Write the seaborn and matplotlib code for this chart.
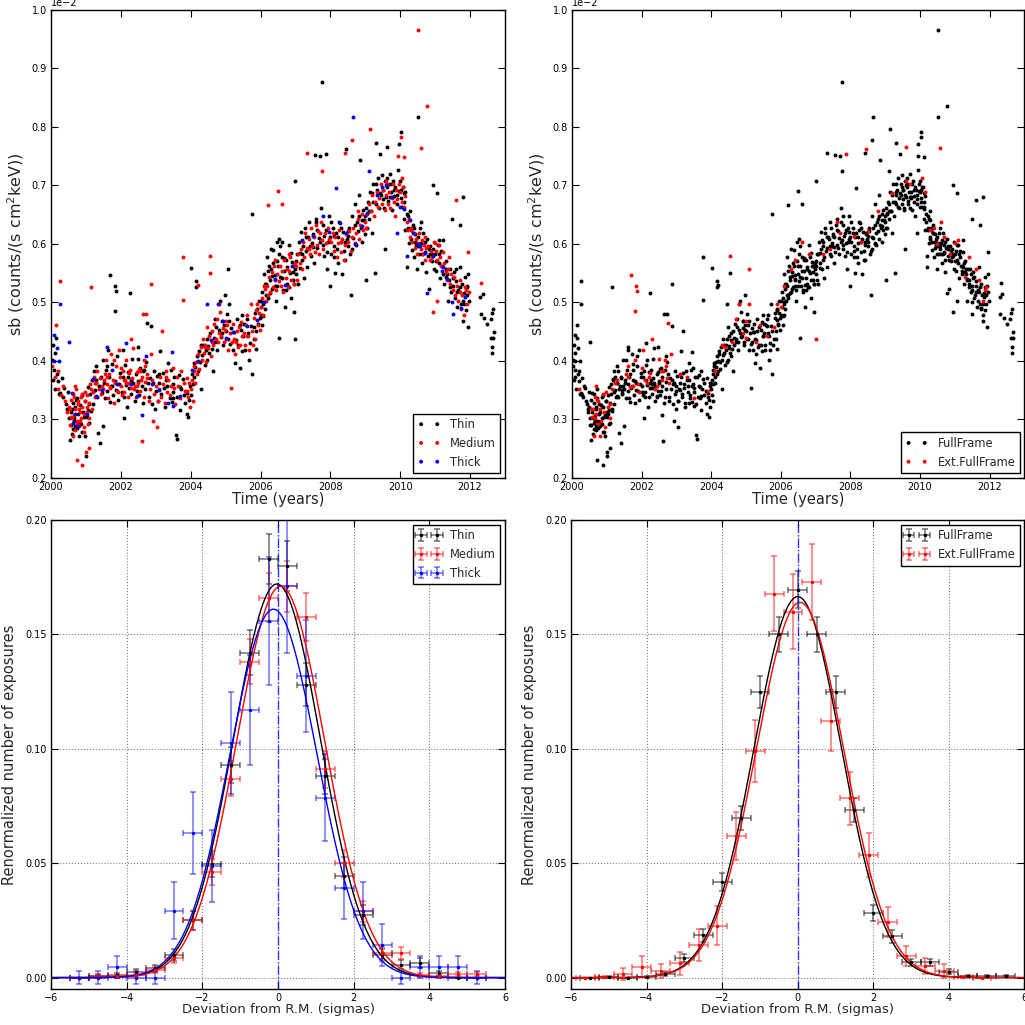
import numpy as np
import pandas as pd
import matplotlib
matplotlib.use("Agg")
import matplotlib.pyplot as plt
from matplotlib.ticker import MultipleLocator
from matplotlib.colors import to_rgba
import seaborn as sns

# ---- light-curve scatter: (year, sb in units of 1e-2 counts/(s cm2 keV)) ----
thin_pts = [
    (2000.03,.402),(2000.05,.368),(2000.06,.427),(2000.08,.385),(2000.1,.413),(2000.12,.352),(2000.15,.44),(2000.17,.377),
    (2000.2,.365),(2000.22,.344),(2000.25,.345),(2000.3,.371),(2000.33,.338),(2000.38,.353),(2000.42,.326),(2000.45,.318),(2000.48,.347),
    (2000.52,.303),(2000.54,.265),(2000.56,.291),(2000.58,.312),(2000.6,.275),(2000.62,.328),(2000.64,.283),(2000.66,.297),(2000.68,.322),
    (2000.7,.288),(2000.73,.336),(2000.75,.285),(2000.78,.309),(2000.8,.296),(2000.83,.325),(2000.85,.293),(2000.88,.279),(2000.9,.341),
    (2000.93,.305),(2000.96,.272),(2000.98,.331),
    (2001.0,.238),(2001.02,.304),(2001.05,.317),(2001.07,.356),(2001.1,.294),(2001.12,.343),(2001.15,.314),(2001.18,.368),(2001.2,.327),
    (2001.22,.383),(2001.25,.351),(2001.28,.362),(2001.3,.391),(2001.32,.339),(2001.35,.277),(2001.38,.357),(2001.4,.26),(2001.42,.372),
    (2001.45,.346),(2001.48,.402),
    (2001.5,.288),(2001.52,.363),(2001.55,.337),(2001.58,.384),(2001.6,.348),(2001.62,.418),(2001.65,.373),(2001.68,.329),(2001.72,.358),
    (2001.75,.394),(2001.78,.342),(2001.82,.366),(2001.85,.351),(2001.88,.409),(2001.92,.334),(2001.95,.361),(2001.98,.379),
    (2002.02,.347),(2002.05,.372),(2002.08,.302),(2002.1,.338),(2002.13,.393),(2002.15,.359),(2002.18,.321),(2002.2,.381),(2002.23,.353),
    (2002.25,.516),(2002.28,.368),(2002.3,.343),(2002.33,.404),(2002.36,.362),(2002.4,.332),(2002.43,.377),(2002.46,.349),(2002.48,.423),
    (2002.5,.366),(2002.53,.341),(2002.56,.388),(2002.6,.357),(2002.63,.328),(2002.66,.384),(2002.7,.352),(2002.73,.398),(2002.8,.339),
    (2002.83,.371),(2002.86,.46),(2002.9,.327),(2002.93,.363),(2002.96,.382),(2002.98,.318),
    (2003.0,.348),(2003.03,.374),(2003.06,.331),(2003.1,.362),(2003.13,.417),(2003.16,.343),(2003.2,.379),(2003.23,.354),(2003.26,.322),
    (2003.3,.367),(2003.33,.358),(2003.36,.396),(2003.4,.336),(2003.43,.384),(2003.46,.329),(2003.48,.361),
    (2003.5,.347),(2003.53,.372),(2003.57,.274),(2003.6,.267),(2003.62,.338),(2003.65,.376),(2003.68,.356),(2003.7,.317),(2003.73,.352),
    (2003.77,.369),(2003.8,.341),(2003.85,.328),(2003.88,.309),(2003.9,.346),(2003.93,.305),(2003.95,.333),(2003.98,.357),
    (2004.01,.559),(2004.02,.342),(2004.04,.378),(2004.06,.361),(2004.08,.397),(2004.1,.372),(2004.13,.389),(2004.16,.536),(2004.16,.527),
    (2004.18,.408),(2004.2,.383),(2004.23,.417),(2004.26,.398),(2004.3,.352),(2004.33,.411),(2004.36,.428),(2004.4,.393),(2004.43,.419),
    (2004.46,.437),(2004.48,.402),
    (2004.5,.426),(2004.53,.413),(2004.56,.448),(2004.6,.421),(2004.63,.382),(2004.66,.439),(2004.7,.432),(2004.73,.458),(2004.76,.418),
    (2004.8,.453),(2004.83,.502),(2004.86,.441),(2004.9,.468),(2004.93,.427),(2004.96,.462),(2004.98,.512),
    (2005.0,.452),(2005.03,.481),(2005.06,.437),(2005.1,.468),(2005.13,.429),(2005.16,.457),(2005.2,.418),(2005.23,.449),(2005.26,.397),
    (2005.3,.436),(2005.33,.472),(2005.36,.428),(2005.4,.388),(2005.43,.453),(2005.46,.417),(2005.48,.478),
    (2005.5,.442),(2005.53,.463),(2005.56,.419),(2005.6,.471),(2005.63,.448),(2005.66,.402),(2005.7,.431),(2005.73,.459),(2005.76,.651),
    (2005.76,.378),(2005.8,.437),(2005.83,.482),(2005.86,.452),(2005.88,.421),(2005.9,.489),(2005.93,.463),(2005.96,.503),(2005.98,.474),
    (2006.0,.479),(2006.03,.518),(2006.05,.462),(2006.08,.497),(2006.1,.548),(2006.12,.488),(2006.15,.532),(2006.18,.577),(2006.2,.508),
    (2006.23,.562),(2006.26,.538),(2006.3,.591),(2006.33,.523),(2006.36,.568),(2006.4,.547),(2006.43,.503),(2006.46,.603),(2006.48,.528),
    (2006.5,.562),(2006.53,.609),(2006.54,.44),(2006.56,.543),(2006.6,.578),(2006.63,.521),(2006.66,.553),(2006.7,.493),(2006.73,.572),
    (2006.76,.532),(2006.8,.598),(2006.83,.551),(2006.86,.507),(2006.9,.569),(2006.93,.538),(2006.96,.484),(2006.98,.557),
    (2007.0,.707),(2007.02,.548),(2007.05,.582),(2007.08,.531),(2007.1,.603),(2007.13,.559),(2007.16,.621),(2007.2,.573),(2007.23,.542),
    (2007.26,.628),(2007.3,.588),(2007.33,.561),(2007.36,.612),(2007.4,.638),(2007.43,.579),(2007.46,.601),
    (2007.5,.617),(2007.53,.568),(2007.57,.752),(2007.6,.642),(2007.63,.593),(2007.66,.611),(2007.7,.75),(2007.72,.661),(2007.76,.876),
    (2007.78,.598),(2007.8,.632),(2007.83,.579),(2007.88,.623),(2007.9,.558),(2007.93,.603),(2007.96,.648),(2007.98,.528),
    (2008.0,.612),(2008.03,.583),(2008.06,.627),(2008.1,.596),(2008.13,.551),(2008.16,.618),(2008.2,.592),(2008.23,.567),(2008.26,.638),
    (2008.3,.603),(2008.33,.548),(2008.36,.621),(2008.4,.588),(2008.43,.572),(2008.48,.608),
    (2008.5,.597),(2008.53,.628),(2008.56,.582),(2008.6,.513),(2008.62,.647),(2008.66,.611),(2008.7,.668),(2008.73,.598),(2008.76,.637),
    (2008.8,.622),(2008.83,.683),(2008.86,.743),(2008.88,.627),(2008.9,.603),(2008.93,.658),(2008.96,.641),(2008.98,.617),
    (2009.0,.648),(2009.03,.539),(2009.05,.628),(2009.08,.671),(2009.1,.643),(2009.13,.688),(2009.16,.657),(2009.2,.619),(2009.23,.702),
    (2009.27,.551),(2009.3,.668),(2009.31,.772),(2009.33,.692),(2009.36,.712),(2009.4,.661),(2009.43,.753),(2009.46,.683),(2009.48,.718),
    (2009.5,.693),(2009.53,.662),(2009.56,.708),(2009.57,.591),(2009.6,.681),(2009.63,.697),(2009.66,.673),(2009.7,.719),(2009.73,.688),
    (2009.76,.658),(2009.8,.707),(2009.83,.682),(2009.86,.698),(2009.9,.668),(2009.93,.727),(2009.95,.77),(2009.97,.691),
    (2010.0,.708),(2010.02,.679),(2010.03,.792),(2010.05,.663),(2010.08,.698),(2010.1,.642),(2010.12,.671),(2010.15,.623),(2010.18,.652),
    (2010.2,.561),(2010.22,.628),(2010.25,.602),(2010.28,.657),(2010.3,.608),(2010.33,.589),(2010.36,.632),(2010.4,.578),(2010.43,.617),
    (2010.46,.598),(2010.48,.558),
    (2010.5,.612),(2010.52,.817),(2010.53,.583),(2010.56,.627),(2010.6,.601),(2010.63,.568),(2010.66,.618),(2010.7,.587),(2010.73,.552),
    (2010.76,.608),(2010.8,.579),(2010.83,.523),(2010.86,.597),(2010.9,.571),(2010.93,.592),(2010.95,.70),(2010.97,.558),
    (2011.0,.582),(2011.03,.553),(2011.05,.687),(2011.07,.598),(2011.1,.567),(2011.13,.541),(2011.16,.588),(2011.2,.562),(2011.23,.607),
    (2011.26,.532),(2011.3,.571),(2011.33,.548),(2011.36,.502),(2011.4,.538),(2011.43,.557),(2011.46,.518),(2011.48,.642),
    (2011.5,.528),(2011.53,.552),(2011.56,.508),(2011.6,.537),(2011.63,.493),(2011.66,.521),(2011.7,.561),(2011.71,.633),(2011.73,.498),
    (2011.76,.532),(2011.8,.468),(2011.81,.681),(2011.83,.517),(2011.86,.543),(2011.88,.487),(2011.9,.512),(2011.93,.458),(2011.95,.548),
    (2011.97,.503),
    (2006.015,.503),(2006.065,.476),(2006.115,.531),(2006.165,.512),(2006.215,.553),(2006.265,.517),(2006.315,.546),(2006.365,.589),
    (2006.415,.528),(2006.465,.571),(2006.515,.583),(2006.565,.597),(2006.615,.541),(2006.665,.576),(2006.715,.522),(2006.765,.561),
    (2006.815,.527),(2006.865,.584),(2006.915,.552),(2006.965,.531),
    (2007.015,.571),(2007.115,.584),(2007.215,.597),(2007.315,.612),(2007.415,.596),(2007.515,.594),(2007.615,.623),(2007.715,.604),
    (2007.815,.613),(2007.915,.587),
    (2008.015,.637),(2008.115,.578),(2008.215,.612),(2008.315,.628),(2008.415,.603),(2008.515,.613),(2008.615,.592),(2008.715,.632),
    (2008.815,.648),(2008.915,.641),
    (2009.015,.662),(2009.115,.657),(2009.215,.671),(2009.315,.703),(2009.415,.687),(2009.515,.677),(2009.615,.712),(2009.715,.681),
    (2009.815,.693),(2009.915,.684),
    (2010.015,.693),(2010.115,.687),(2010.215,.647),(2010.315,.624),(2010.415,.603),(2010.515,.597),(2010.615,.582),(2010.715,.603),
    (2010.815,.591),(2010.915,.583),
    (2011.015,.571),(2011.115,.582),(2011.215,.548),(2011.315,.558),(2011.415,.527),(2011.515,.541),(2011.615,.518),(2011.715,.527),
    (2011.815,.498),(2011.915,.528),
    (2012.29,.51),(2012.36,.514),(2012.31,.48),(2012.4,.473),(2012.49,.463),(2012.59,.472),(2012.62,.482),(2012.65,.489),
    (2012.6,.44),(2012.63,.424),(2012.64,.414),(2012.66,.44),(2012.68,.45),
]
thin_ext_pts = [
    (2001.70,.547),(2001.83,.528),(2001.87,.52),(2001.82,.486),(2002.76,.465),(2005.08,.557),(2007.0,.438),(2007.86,.754),
    (2008.46,.762),(2009.61,.765),
    (2000.6,.318),(2000.65,.302),(2000.72,.334),(2000.8,.271),(2000.92,.313),(2001.08,.327),(2001.3,.368),(2001.6,.392),(2001.75,.357),
    (2002.05,.418),(2002.2,.372),(2002.5,.403),(2002.62,.383),(2002.78,.362),(2003.1,.378),(2003.5,.337),(2004.3,.428),(2004.7,.472),
    (2004.9,.447),(2005.1,.498),(2005.4,.462),(2005.8,.458),(2006.0,.493),(2006.3,.558),(2006.6,.604),(2007.2,.583),(2007.6,.637),
    (2008.1,.613),(2008.5,.622),(2009.2,.687),(2009.7,.702),(2010.15,.688),(2010.4,.627),(2010.6,.638),(2010.85,.583),(2011.1,.607),
    (2011.3,.543),(2011.6,.558),(2011.8,.503),(2011.9,.527),
]
medium_pts = [
    (2000.04,.392),(2000.14,.461),(2000.26,.536),(2000.1,.372),(2000.2,.383),(2000.28,.342),(2000.35,.358),(2000.4,.331),(2000.46,.312),
    (2000.5,.322),(2000.53,.291),(2000.56,.334),(2000.6,.302),(2000.63,.343),(2000.65,.308),(2000.68,.282),(2000.7,.318),(2000.72,.352),
    (2000.73,.231),(2000.75,.297),(2000.78,.327),(2000.8,.288),(2000.82,.313),(2000.85,.338),(2000.87,.303),(2000.89,.222),(2000.9,.321),
    (2000.93,.278),(2000.95,.309),(2000.98,.332),
    (2001.0,.244),(2001.02,.312),(2001.04,.341),(2001.06,.293),(2001.08,.252),(2001.09,.328),(2001.12,.361),(2001.14,.526),(2001.16,.318),
    (2001.2,.347),(2001.23,.372),(2001.26,.338),(2001.3,.363),(2001.33,.383),(2001.36,.352),(2001.4,.371),(2001.44,.343),(2001.47,.358),
    (2001.5,.352),(2001.53,.368),(2001.56,.402),(2001.6,.361),(2001.63,.337),(2001.66,.378),(2001.7,.353),(2001.73,.412),(2001.76,.367),
    (2001.8,.328),(2001.84,.362),(2001.87,.391),(2001.9,.348),(2001.94,.418),(2001.97,.372),
    (2002.0,.358),(2002.03,.342),(2002.06,.383),(2002.1,.347),(2002.13,.368),(2002.16,.402),(2002.2,.338),(2002.23,.362),(2002.26,.384),
    (2002.3,.353),(2002.33,.371),(2002.36,.422),(2002.4,.357),(2002.43,.339),(2002.46,.381),
    (2002.5,.362),(2002.53,.387),(2002.56,.348),(2002.6,.373),(2002.61,.263),(2002.64,.48),(2002.66,.338),(2002.7,.364),(2002.72,.48),
    (2002.75,.378),(2002.8,.332),(2002.84,.352),(2002.86,.532),(2002.88,.367),(2002.93,.298),(2002.95,.343),
    (2003.0,.358),(2003.04,.287),(2003.05,.331),(2003.08,.352),(2003.12,.373),(2003.15,.338),(2003.18,.452),(2003.22,.361),(2003.25,.328),
    (2003.28,.382),(2003.32,.347),(2003.35,.368),(2003.4,.342),(2003.44,.357),(2003.48,.388),
    (2003.52,.353),(2003.56,.327),(2003.6,.372),(2003.64,.358),(2003.68,.337),(2003.72,.383),(2003.77,.577),(2003.77,.505),(2003.8,.362),
    (2003.84,.348),(2003.88,.371),(2003.92,.338),(2003.96,.363),(2003.98,.322),
    (2004.0,.352),(2004.03,.368),(2004.06,.331),(2004.09,.392),(2004.12,.363),(2004.15,.398),(2004.18,.377),(2004.2,.53),(2004.22,.412),
    (2004.25,.387),(2004.28,.423),(2004.32,.402),(2004.35,.438),(2004.38,.413),(2004.42,.427),(2004.45,.398),(2004.48,.458),
    (2004.5,.422),(2004.52,.443),(2004.55,.55),(2004.58,.408),(2004.62,.452),(2004.65,.428),(2004.68,.463),(2004.72,.437),(2004.75,.472),
    (2004.78,.433),(2004.82,.448),(2004.85,.483),(2004.88,.442),(2004.92,.457),(2004.95,.432),(2004.98,.453),
    (2005.02,.438),(2005.05,.462),(2005.08,.418),(2005.12,.447),(2005.15,.354),(2005.18,.432),(2005.22,.463),(2005.25,.437),(2005.28,.412),
    (2005.32,.452),(2005.35,.423),(2005.38,.458),(2005.42,.428),(2005.45,.467),(2005.48,.443),
    (2005.52,.448),(2005.55,.427),(2005.58,.462),(2005.62,.478),(2005.65,.442),(2005.68,.418),(2005.72,.498),(2005.75,.452),(2005.78,.428),
    (2005.82,.473),(2005.85,.438),(2005.88,.487),(2005.92,.462),(2005.95,.482),(2005.98,.453),
    (2006.02,.492),(2006.05,.508),(2006.08,.478),(2006.12,.523),(2006.15,.502),(2006.18,.528),(2006.2,.666),(2006.22,.512),(2006.25,.543),
    (2006.28,.518),(2006.32,.552),(2006.35,.527),(2006.38,.563),(2006.42,.538),(2006.45,.522),(2006.48,.548),
    (2006.5,.69),(2006.52,.537),(2006.55,.562),(2006.58,.528),(2006.6,.669),(2006.62,.553),(2006.65,.518),(2006.68,.572),(2006.72,.542),
    (2006.75,.558),(2006.78,.527),(2006.82,.553),(2006.85,.578),(2006.88,.538),(2006.92,.563),(2006.95,.532),(2006.98,.568),
    (2007.02,.562),(2007.05,.538),(2007.08,.583),(2007.12,.567),(2007.15,.592),(2007.18,.558),(2007.22,.603),(2007.25,.577),(2007.28,.618),
    (2007.32,.593),(2007.34,.756),(2007.38,.608),(2007.42,.582),(2007.45,.628),(2007.48,.597),
    (2007.52,.612),(2007.55,.587),(2007.58,.633),(2007.62,.598),(2007.65,.622),(2007.68,.583),(2007.72,.638),(2007.75,.607),(2007.76,.724),
    (2007.8,.592),(2007.84,.618),(2007.88,.602),(2007.92,.628),(2007.96,.608),
    (2008.02,.603),(2008.06,.618),(2008.1,.588),(2008.14,.612),(2008.18,.578),(2008.22,.602),(2008.26,.623),(2008.3,.587),(2008.34,.608),
    (2008.38,.573),(2008.42,.598),(2008.43,.755),(2008.46,.617),
    (2008.5,.603),(2008.54,.622),(2008.58,.588),(2008.62,.612),(2008.63,.778),(2008.66,.628),(2008.7,.602),(2008.74,.618),(2008.78,.642),
    (2008.82,.608),(2008.86,.633),(2008.9,.652),(2008.94,.623),(2008.98,.638),
    (2009.02,.627),(2009.06,.652),(2009.1,.668),(2009.13,.796),(2009.16,.657),(2009.2,.683),(2009.24,.648),(2009.28,.672),(2009.32,.688),
    (2009.36,.663),(2009.4,.678),(2009.44,.702),(2009.48,.668),
    (2009.52,.692),(2009.55,.658),(2009.58,.683),(2009.62,.703),(2009.65,.668),(2009.68,.688),(2009.72,.662),(2009.75,.678),(2009.78,.702),
    (2009.82,.672),(2009.85,.648),(2009.88,.693),(2009.92,.677),(2009.94,.75),(2009.96,.703),
    (2010.0,.688),(2010.03,.783),(2010.04,.672),(2010.07,.698),(2010.1,.748),(2010.12,.663),(2010.15,.682),(2010.18,.638),(2010.22,.623),
    (2010.25,.642),(2010.28,.612),(2010.32,.628),(2010.35,.603),(2010.38,.618),(2010.42,.593),(2010.45,.608),(2010.48,.582),
    (2010.52,.965),(2010.52,.602),(2010.55,.618),(2010.58,.592),(2010.62,.607),(2010.65,.583),(2010.68,.598),(2010.72,.572),(2010.75,.593),
    (2010.77,.835),(2010.8,.597),(2010.84,.573),(2010.88,.588),(2010.92,.578),(2010.95,.484),(2010.98,.603),
    (2011.02,.588),(2011.05,.502),(2011.06,.572),(2011.1,.598),(2011.14,.577),(2011.18,.562),(2011.22,.587),(2011.26,.568),(2011.3,.552),
    (2011.34,.538),(2011.38,.558),(2011.42,.532),(2011.46,.548),
    (2011.5,.522),(2011.54,.543),(2011.58,.512),(2011.61,.675),(2011.62,.528),(2011.66,.502),(2011.7,.518),(2011.74,.488),(2011.78,.512),
    (2011.82,.478),(2011.86,.527),(2011.9,.497),(2011.94,.586),(2011.96,.518),(2012.32,.533),
]
medium_ext_pts = [
    (2004.55,.579),(2010.58,.764),
    (2000.2,.352),(2000.55,.318),(2000.62,.272),(2000.7,.358),(2000.76,.331),(2000.84,.298),(2000.97,.347),(2001.1,.302),(2001.25,.362),
    (2001.55,.378),(2001.8,.402),(2002.1,.368),(2002.3,.438),(2002.45,.357),(2002.55,.383),(2002.7,.392),(2002.85,.412),(2003.3,.372),
    (2003.9,.348),(2004.1,.382),(2004.4,.423),(2004.6,.433),(2004.8,.498),(2005.0,.468),(2005.3,.432),(2005.6,.443),(2005.9,.497),
    (2006.1,.528),(2006.4,.572),(2006.8,.582),(2007.4,.592),(2007.7,.618),(2008.3,.603),(2008.8,.657),(2009.6,.708),(2010.05,.712),
    (2010.3,.623),(2010.7,.612),(2011.0,.602),(2011.4,.578),(2011.7,.538),(2011.88,.522),
    (2000.58,.305),(2000.66,.338),(2000.74,.292),(2000.81,.318),(2000.88,.343),(2000.94,.287),(2001.03,.322),(2001.14,.352),
    (2001.6,.372),(2001.68,.355),(2001.92,.347),(2002.0,.388),(2002.15,.362),(2002.24,.379),(2002.38,.352),(2002.58,.367),
    (2002.66,.402),(2002.74,.371),
]
thick_pts = [
    (2000.08,.444),(2000.16,.422),(2000.27,.498),(2000.09,.40),(2000.22,.40),(2000.52,.432),(2000.59,.345),(2000.64,.294),
    (2000.78,.288),(2001.04,.31),(2001.19,.37),(2001.3,.34),(2001.45,.35),(2001.61,.423),(2001.74,.385),(2002.14,.431),
    (2002.3,.36),(2002.45,.34),(2002.6,.308),(2002.71,.408),(2002.9,.36),(2003.1,.35),(2003.36,.328),(2003.45,.415),(2003.5,.323),
    (2003.7,.34),(2004.04,.385),(2004.2,.40),(2004.46,.498),(2004.57,.436),(2004.79,.498),(2004.92,.468),(2005.2,.45),(2005.6,.46),
    (2005.9,.47),(2006.1,.50),(2006.4,.54),(2006.7,.53),(2006.9,.562),(2007.18,.607),(2007.5,.613),(2007.8,.647),(2007.95,.62),
    (2008.16,.695),(2008.27,.636),(2008.46,.618),(2008.65,.817),(2008.7,.60),(2008.9,.63),(2009.04,.653),(2009.1,.725),
    (2009.32,.684),(2009.47,.698),(2009.6,.70),(2009.75,.681),(2009.91,.618),(2009.99,.664),(2010.1,.66),(2010.2,.58),
    (2010.28,.641),(2010.37,.618),(2010.56,.596),(2010.7,.584),(2010.76,.517),(2010.95,.579),(2011.2,.554),(2011.23,.561),
    (2011.35,.54),(2011.49,.50),(2011.5,.48),(2011.74,.49),(2011.85,.51),
]
thick_ext_pts = [(2000.7,.31),(2001.9,.36),(2005.0,.44),(2010.5,.60)]

# ---- deviation histograms (bin centre, normalised count, error) ----
bin_halfwidth = 0.25
filt_x = [-5.25,-4.75,-4.25,-3.75,-3.25,-2.75,-2.25,-1.75,-1.25,-0.75,-0.25,
          0.25,0.75,1.25,1.75,2.25,2.75,3.25,3.75,4.25,4.75,5.25]
thin_y = [0.0,0.0007,0.001,0.0025,0.004,0.010,0.025,0.0497,0.093,0.142,0.183,
          0.180,0.128,0.088,0.0446,0.0274,0.0098,0.0056,0.0063,0.0019,0.0,0.0]
thin_err = [0.0,0.0007,0.001,0.0013,0.0016,0.0026,0.004,0.0057,0.0078,0.0097,0.011,
            0.011,0.0093,0.0077,0.0055,0.0043,0.0026,0.0019,0.0021,0.0011,0.0,0.0]
medium_y = [0.0,0.0005,0.0005,0.001,0.0033,0.0085,0.025,0.046,0.087,0.138,0.166,
            0.171,0.1576,0.091,0.050,0.029,0.0107,0.0107,0.001,0.0005,0.0015,0.0015]
medium_err = [0.0,0.0005,0.0005,0.0008,0.0014,0.0022,0.0042,0.0057,0.0078,0.0098,0.0108,
              0.011,0.0105,0.008,0.0059,0.0045,0.0027,0.0027,0.0008,0.0005,0.001,0.001]
thick_y = [0.0,0.0,0.0048,0.0,0.0,0.0293,0.0632,0.0487,0.1027,0.117,0.156,
           0.171,0.132,0.0786,0.039,0.0293,0.0143,0.0,0.0048,0.0048,0.0048,0.0]
thick_err = [0.003,0.003,0.0048,0.003,0.003,0.0125,0.0178,0.0157,0.0223,0.024,0.028,
             0.029,0.0245,0.019,0.0135,0.0125,0.0092,0.003,0.0048,0.0048,0.0048,0.003]

ff_x = [-5.5,-5.0,-4.5,-4.0,-3.5,-3.0,-2.5,-2.0,-1.5,-1.0,-0.5,0.0,
        0.5,1.0,1.5,2.0,2.5,3.0,3.5,4.0,4.5,5.0,5.5]
ff_y = [0.0,0.0004,0.0,0.0004,0.0015,0.0085,0.0184,0.0417,0.0696,0.1247,0.150,0.1696,
        0.150,0.1247,0.0732,0.0282,0.018,0.0067,0.0067,0.0026,0.0007,0.0007,0.0007]
ff_err = [0.0,0.0004,0.0,0.0004,0.0008,0.0018,0.0027,0.004,0.0052,0.007,0.0077,0.0082,
          0.0077,0.007,0.0054,0.0034,0.0027,0.0016,0.0016,0.001,0.0005,0.0005,0.0005]
ext_x = [-5.625,-5.125,-4.625,-4.125,-3.625,-3.125,-2.625,-2.125,-1.625,-1.125,-0.625,
         -0.125,0.375,0.875,1.375,1.875,2.375,2.875,3.375,3.875,4.375,4.875]
ext_y = [0.0,0.0002,0.0015,0.0048,0.003,0.0063,0.0143,0.0227,0.0618,0.099,0.1678,
         0.160,0.173,0.1123,0.0784,0.0535,0.0243,0.0095,0.0051,0.003,0.0002,0.0]
ext_err = [0.0,0.0005,0.0025,0.0045,0.003,0.005,0.007,0.0085,0.0105,0.0135,0.0165,
           0.0165,0.0167,0.0133,0.0115,0.0095,0.0065,0.0043,0.0035,0.003,0.0005,0.0]

# gaussian fit parameters: amplitude, mean, sigma
fit_filters = {"Thin": (0.172, -0.03, 1.15), "Medium": (0.171, 0.07, 1.16), "Thick": (0.161, -0.12, 1.15)}
fit_modes = {"FullFrame": (0.1665, 0.0, 1.15), "Ext.FullFrame": (0.164, 0.06, 1.16)}

colors = {"Thin": "k", "Medium": "r", "Thick": "b", "FullFrame": "k", "Ext.FullFrame": "r"}


def frame(pts, filt, mode):
    d = pd.DataFrame(pts, columns=["year", "sb"])
    d["filter"] = filt
    d["mode"] = mode
    return d


scat = pd.concat([
    frame(thin_pts, "Thin", "FullFrame"), frame(thin_ext_pts, "Thin", "Ext.FullFrame"),
    frame(medium_pts, "Medium", "FullFrame"), frame(medium_ext_pts, "Medium", "Ext.FullFrame"),
    frame(thick_pts, "Thick", "FullFrame"), frame(thick_ext_pts, "Thick", "Ext.FullFrame"),
], ignore_index=True)
scat["sb"] = scat["sb"] * 1e-2

sns.set_style("ticks", {"xtick.direction": "in", "ytick.direction": "in",
                        "axes.edgecolor": "black", "xtick.color": "black", "ytick.color": "black"})
plt.rcParams["font.family"] = ["DejaVu Sans"]

fig = plt.figure(figsize=(10.25, 10.25), dpi=100)
ax_tl = fig.add_axes([0.0498, 0.5337, 0.4429, 0.4566])
ax_tr = fig.add_axes([0.558, 0.5337, 0.4415, 0.4566])
ax_bl = fig.add_axes([0.0498, 0.0351, 0.4429, 0.4576])
ax_br = fig.add_axes([0.5571, 0.0351, 0.4424, 0.4576])


def style_axes(ax, tick_size):
    ax.tick_params(axis="both", which="both", top=True, right=True, direction="in",
                   length=5, width=0.8, labelsize=tick_size, pad=3)
    for sp in ax.spines.values():
        sp.set_color("black")
        sp.set_linewidth(1.0)


# ---- top panels ----
for ax, key, groups in [(ax_tl, "filter", ["Thin", "Medium", "Thick"]),
                        (ax_tr, "mode", ["FullFrame", "Ext.FullFrame"])]:
    for g in groups:
        sns.scatterplot(data=scat[scat[key] == g], x="year", y="sb", color=colors[g],
                        s=8, linewidth=0, label=g, ax=ax)
    ax.set_xlim(2000, 2013)
    ax.set_ylim(0.002, 0.010)
    ax.xaxis.set_major_locator(MultipleLocator(2))
    ax.yaxis.set_major_locator(MultipleLocator(0.001))
    ax.ticklabel_format(axis="y", style="sci", scilimits=(-2, -2), useMathText=False)
    ax.yaxis.get_offset_text().set_fontsize(7)
    style_axes(ax, 7)
    ax.set_xlabel("Time (years)", fontsize=10.5, labelpad=0)
    ax.set_ylabel("sb (counts/(s cm$^2$keV))", fontsize=11.5, labelpad=4)
    ax.legend(loc="lower right", scatterpoints=2, scatteryoffsets=[0.5], fontsize=8.3,
              fancybox=False, edgecolor="black", framealpha=1, borderaxespad=0.4,
              handlelength=2, handletextpad=0.8, labelspacing=0.5)
    ax.get_legend().get_frame().set_linewidth(1.0)

# ---- bottom panels ----
xx = np.linspace(-6, 6, 481)
for ax, groups, fits in [
    (ax_bl, [("Thin", filt_x, thin_y, thin_err), ("Medium", filt_x, medium_y, medium_err),
             ("Thick", filt_x, thick_y, thick_err)], fit_filters),
    (ax_br, [("FullFrame", ff_x, ff_y, ff_err), ("Ext.FullFrame", ext_x, ext_y, ext_err)], fit_modes),
]:
    handles = []
    for name, bx, by, be in groups:
        c = colors[name]
        h = ax.errorbar(bx, by, xerr=bin_halfwidth, yerr=be, fmt=".", color=c, ms=3,
                        ecolor=to_rgba(c, 0.55), elinewidth=1.1, capsize=2, capthick=1.1,
                        label=name)
        handles.append(h)
    for name, bx, by, be in groups:
        amp, mu, sig = fits[name]
        curve = amp * np.exp(-(xx - mu) ** 2 / (2 * sig ** 2))
        sns.lineplot(x=xx, y=curve, color=colors[name], linewidth=1.0, ax=ax, legend=False)
    ax.axvline(0, color="b", ls="-.", lw=1.0, alpha=0.75)
    ax.set_xlim(-6, 6)
    ax.set_ylim(-0.005, 0.2)
    ax.xaxis.set_major_locator(MultipleLocator(2))
    ax.yaxis.set_major_locator(MultipleLocator(0.05))
    ax.yaxis.set_major_formatter(plt.FormatStrFormatter("%.2f"))
    ax.grid(True, ls=":", color="0.5", lw=0.8)
    style_axes(ax, 7)
    ax.set_xlabel("Deviation from R.M. (sigmas)", fontsize=9.5, labelpad=0)
    ax.set_ylabel("Renormalized number of exposures", fontsize=10.5, labelpad=6)
    leg = ax.legend(handles=handles, labels=[g[0] for g in groups], loc="upper right",
                    numpoints=2, fontsize=8.3, fancybox=False, edgecolor="black", framealpha=1,
                    borderaxespad=0.4, handlelength=2, handletextpad=0.8, labelspacing=0.5)
    leg.get_frame().set_linewidth(1.0)

fig.savefig("out.png", dpi=100)
